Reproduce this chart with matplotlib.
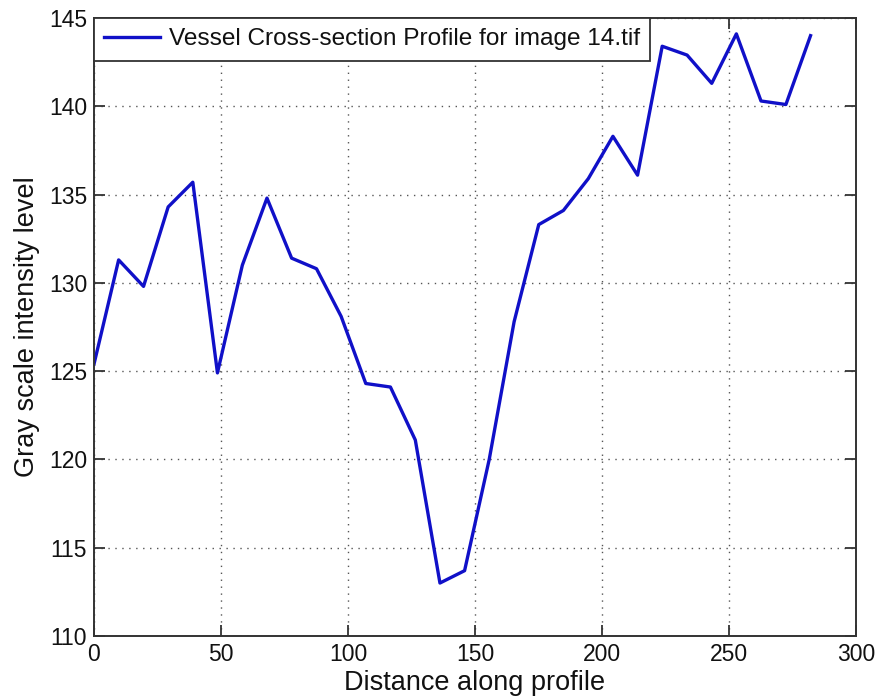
import matplotlib
matplotlib.use("Agg")
import matplotlib.pyplot as plt

# Sample positions along the profile line (pixels)
distance = [0.0, 9.7, 19.5, 29.2, 38.9, 48.6, 58.4, 68.1, 77.8, 87.6,
            97.3, 107.0, 116.7, 126.5, 136.2, 145.9, 155.6, 165.4, 175.1, 184.8,
            194.6, 204.3, 214.0, 223.7, 233.5, 243.2, 252.9, 262.6, 272.4, 282.1]

# Gray level sampled at each position
intensity = [125.4, 131.3, 129.8, 134.3, 135.7, 124.9, 131.0, 134.8, 131.4, 130.8,
             128.1, 124.3, 124.1, 121.1, 113.0, 113.7, 120.0, 127.8, 133.3, 134.1,
             135.9, 138.3, 136.1, 143.4, 142.9, 141.3, 144.1, 140.3, 140.1, 144.0]

series_label = "Vessel Cross-section Profile for image 14.tif"
x_ticks = [0, 50, 100, 150, 200, 250, 300]
y_ticks = [110, 115, 120, 125, 130, 135, 140, 145]

plt.rcParams["font.family"] = ["Liberation Sans", "DejaVu Sans"]

fig = plt.figure(figsize=(8.8, 6.98), dpi=100)
ax = fig.add_axes([94 / 880, 1 - 636 / 698, (856 - 94) / 880, (636 - 18) / 698])

ax.plot(distance, intensity, color="#1010c8", linewidth=2.4, label=series_label)

ax.set_xlim(0, 300)
ax.set_ylim(110, 145)
ax.set_xticks(x_ticks)
ax.set_yticks(y_ticks)
ax.tick_params(direction="in", length=8, width=1.3, top=True, right=True,
               labelsize=16.5, colors="#333333", labelcolor="#111111", pad=5)
for side in ax.spines.values():
    side.set_color("#333333")
    side.set_linewidth(1.4)

ax.grid(True, linestyle=(0, (1, 4)), color="#555555", linewidth=1.0)

ax.set_xlabel("Distance along profile", fontsize=19.5, labelpad=3,
              color="#111111")
ax.set_ylabel("Gray scale intensity level", fontsize=19.5, labelpad=6,
              color="#111111")

leg = ax.legend(loc="upper left", fontsize=17.6, frameon=True, fancybox=False,
                borderaxespad=0, handlelength=2.3, handletextpad=0.35,
                borderpad=0.42)
leg.get_frame().set_edgecolor("#333333")
leg.get_frame().set_linewidth(1.3)
leg.get_frame().set_alpha(1.0)
for txt in leg.get_texts():
    txt.set_color("#111111")

fig.savefig("out.png", dpi=100)
